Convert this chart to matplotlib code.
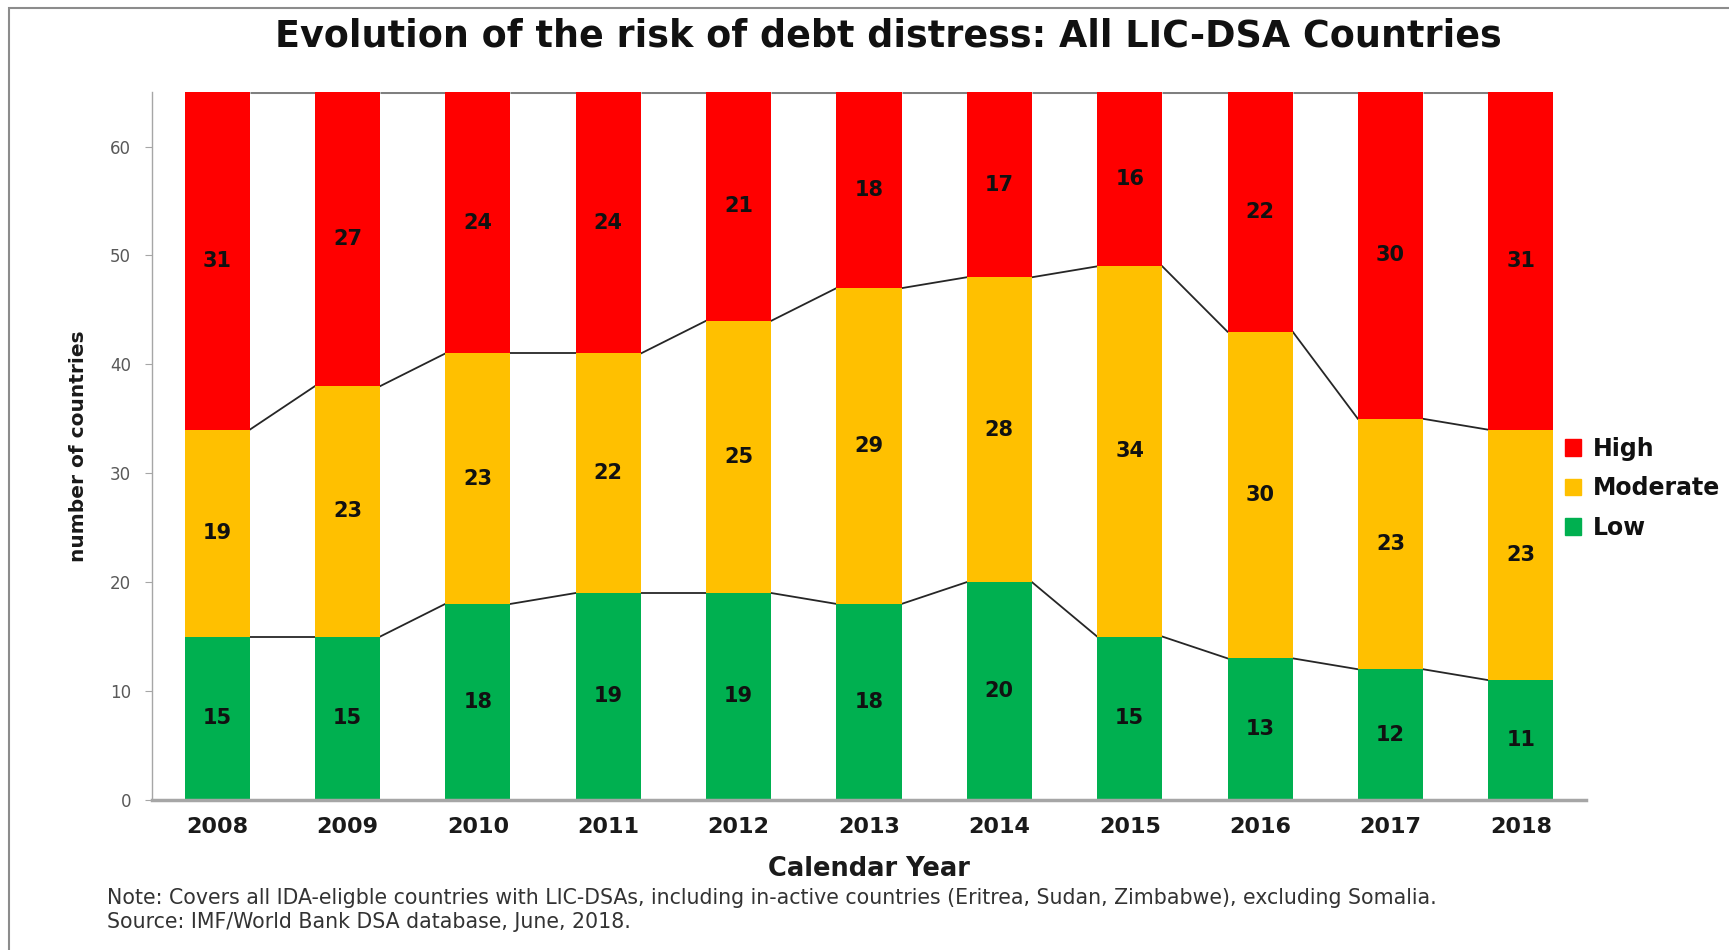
import numpy as np
import matplotlib.pyplot as plt
from matplotlib.patches import Patch, Rectangle

# Risk of debt distress, number of countries per rating
years = ['2008', '2009', '2010', '2011', '2012', '2013', '2014', '2015', '2016', '2017', '2018']
low = [15, 15, 18, 19, 19, 18, 20, 15, 13, 12, 11]
moderate = [19, 23, 23, 22, 25, 29, 28, 34, 30, 23, 23]
high = [31, 27, 24, 24, 21, 18, 17, 16, 22, 30, 31]

c_low = '#00B050'
c_mod = '#FFC000'
c_high = '#FF0000'

fig = plt.figure(figsize=(17.29, 9.5), dpi=100)
ax = fig.add_axes([0.0879, 0.158, 0.8294, 0.745])

x = np.arange(len(years))
w = 0.5
low_a = np.array(low)
mod_a = np.array(moderate)
high_a = np.array(high)

ax.bar(x, low_a, w, color=c_low, zorder=2)
ax.bar(x, mod_a, w, bottom=low_a, color=c_mod, zorder=2)
ax.bar(x, high_a, w, bottom=low_a + mod_a, color=c_high, zorder=2)

# series lines joining the segment tops of neighbouring bars
levels = [low_a, low_a + mod_a]
for lev in levels:
    for i in range(len(x) - 1):
        ax.plot([x[i] + w / 2, x[i + 1] - w / 2], [lev[i], lev[i + 1]],
                color='#262626', lw=1.3, zorder=1)
top = low_a + mod_a + high_a
for i in range(len(x) - 1):
    ax.plot([x[i] + w / 2, x[i + 1] - w / 2], [top[i], top[i + 1]],
            color='#808080', lw=2.2, zorder=1, solid_capstyle='butt')

# value labels in the middle of each segment
for i in range(len(x)):
    ax.text(x[i], low_a[i] / 2, str(low[i]), ha='center', va='center',
            fontsize=15, fontweight='bold', color='#111111', zorder=3)
    ax.text(x[i], low_a[i] + mod_a[i] / 2, str(moderate[i]), ha='center', va='center',
            fontsize=15, fontweight='bold', color='#111111', zorder=3)
    ax.text(x[i], low_a[i] + mod_a[i] + high_a[i] / 2, str(high[i]), ha='center', va='center',
            fontsize=15, fontweight='bold', color='#111111', zorder=3)

ax.set_xlim(-0.5, len(x) - 0.5)
ax.set_ylim(0, 65)
ax.set_yticks(range(0, 61, 10))
ax.set_xticks(x)
ax.set_xticklabels(years, fontsize=16, fontweight='bold', color='#1a1a1a')
ax.tick_params(axis='x', length=0, pad=12)
ax.tick_params(axis='y', length=5, color='#A6A6A6', labelsize=12, labelcolor='#595959', pad=10)

for s in ['top', 'right']:
    ax.spines[s].set_visible(False)
ax.spines['left'].set_color('#A6A6A6')
ax.spines['left'].set_linewidth(1)
ax.spines['bottom'].set_color('#A6A6A6')
ax.spines['bottom'].set_linewidth(2.5)

ax.set_xlabel('Calendar Year', fontsize=18.5, fontweight='bold', color='#1a1a1a', labelpad=14)
ax.set_ylabel('number of countries', fontsize=14.5, fontweight='bold', color='#1a1a1a', labelpad=16)

fig.text(0.514, 0.962, 'Evolution of the risk of debt distress: All LIC-DSA Countries',
         ha='center', va='center', fontsize=26.3, fontweight='bold', color='#111111')

fig.text(0.062, 0.055,
         'Note: Covers all IDA-eligble countries with LIC-DSAs, including in-active countries '
         '(Eritrea, Sudan, Zimbabwe), excluding Somalia.',
         ha='left', va='center', fontsize=14.8, color='#333333')
fig.text(0.062, 0.029, 'Source: IMF/World Bank DSA database, June, 2018.',
         ha='left', va='center', fontsize=14.8, color='#333333')

handles = [Patch(color=c_high), Patch(color=c_mod), Patch(color=c_low)]
fig.legend(handles, ['High', 'Moderate', 'Low'], loc='center left',
           bbox_to_anchor=(0.905, 0.486), frameon=False, borderpad=0, borderaxespad=0,
           handlelength=0.7, handleheight=0.7, handletextpad=0.5, labelspacing=0.65,
           prop={'size': 17, 'weight': 'bold'}, labelcolor='#111111')

# thin frame around the chart area
fig.patches.append(Rectangle((0.005, -0.1), 1.1, 1.092, transform=fig.transFigure,
                             fill=False, edgecolor='#8c8c8c', lw=1.5))

fig.savefig('out.png', dpi=100)
